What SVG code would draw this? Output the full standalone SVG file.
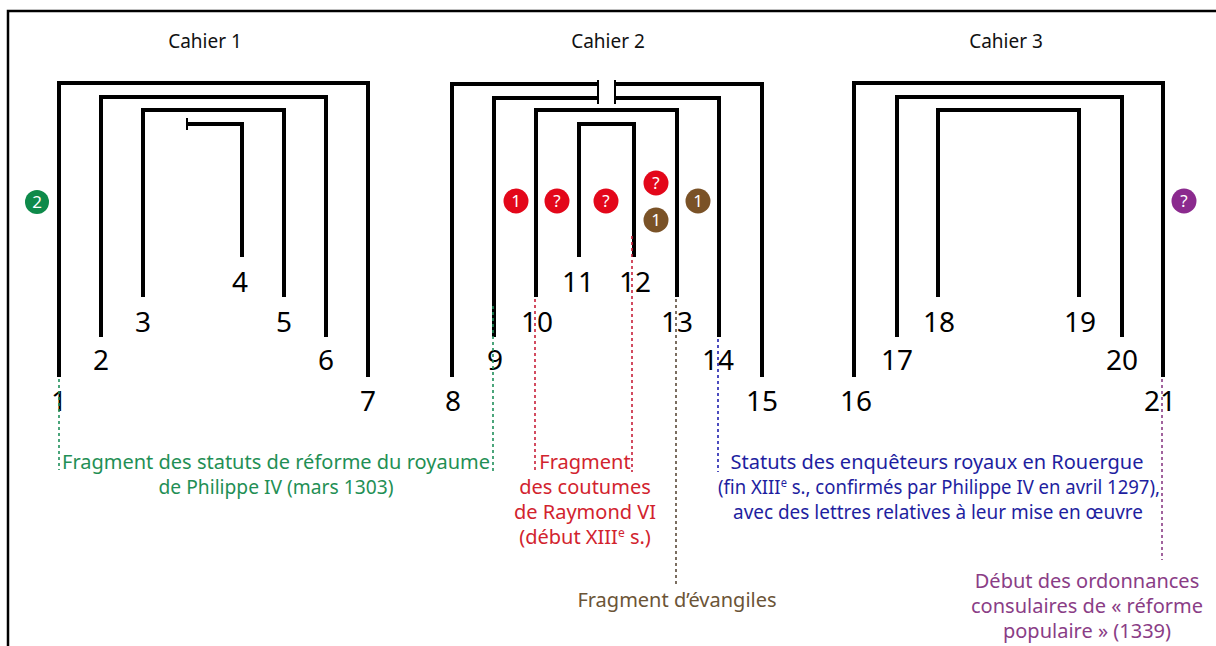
<svg xmlns="http://www.w3.org/2000/svg" width="1216" height="646" viewBox="0 0 1216 646">
<style>
.leaf{fill:none;stroke:#000;stroke-width:4;stroke-linejoin:miter;stroke-linecap:butt}
.tick{fill:none;stroke:#000;stroke-width:2}
.border{fill:none;stroke:#000;stroke-width:2.5}
.num{font-family:"Noto Sans",sans-serif;font-size:28px;fill:#000;text-anchor:middle}
.title{font-family:"Noto Sans",sans-serif;font-size:19px;fill:#111;text-anchor:middle}
.note{font-family:"Noto Sans",sans-serif;font-size:20px;text-anchor:middle}
.dot{fill:none;stroke-width:1.6;stroke-dasharray:3 3}
.badge text{font-family:"Noto Sans",sans-serif;font-size:17px;fill:#fff;text-anchor:middle}
.sup{font-size:12px}
</style>
<rect width="1216" height="646" fill="#fff"/>
<path class="border" d="M8,646 V11 H1216"/>

<g id="titles">
<text class="title" x="205" y="48">Cahier 1</text>
<text class="title" x="608" y="48">Cahier 2</text>
<text class="title" x="1006" y="48">Cahier 3</text>
</g>

<g id="cahier1">
<g id="f1-7"><path class="leaf" d="M59,377 V83 H368 V377"/><text class="num" x="59" y="411">1</text><text class="num" x="368" y="411">7</text></g>
<g id="f2-6"><path class="leaf" d="M101,337 V97 H326 V337"/><text class="num" x="101" y="370">2</text><text class="num" x="326" y="370">6</text></g>
<g id="f3-5"><path class="leaf" d="M143,297 V110 H284 V297"/><text class="num" x="143" y="332">3</text><text class="num" x="284" y="332">5</text></g>
<g id="f4"><path class="leaf" d="M187,124 H242 V257"/><path class="tick" d="M187,118 V130"/><text class="num" x="240" y="292">4</text></g>
</g>

<g id="cahier2">
<g id="f8-15"><path class="leaf" d="M452,377 V84 H598 M615,84 H762 V377"/><text class="num" x="453" y="411">8</text><text class="num" x="762" y="411">15</text></g>
<g id="f9-14"><path class="leaf" d="M494,337 V98 H598 M615,98 H719 V337"/><text class="num" x="495" y="370">9</text><text class="num" x="718" y="370">14</text></g>
<g id="gap"><path class="tick" d="M598,80 V104 M615,80 V104"/></g>
<g id="f10-13"><path class="leaf" d="M536,297 V110 H677 V297"/><text class="num" x="537" y="332">10</text><text class="num" x="677" y="332">13</text></g>
<g id="f11-12"><path class="leaf" d="M579,257 V124 H634 V257"/><text class="num" x="578" y="292">11</text><text class="num" x="635" y="292">12</text></g>
</g>

<g id="cahier3">
<g id="f16-21"><path class="leaf" d="M854,377 V83 H1163 V377"/><text class="num" x="856" y="411">16</text><text class="num" x="1160" y="411">21</text></g>
<g id="f17-20"><path class="leaf" d="M897,337 V97 H1122 V337"/><text class="num" x="897" y="370">17</text><text class="num" x="1122" y="370">20</text></g>
<g id="f18-19"><path class="leaf" d="M938,297 V110 H1079 V297"/><text class="num" x="939" y="332">18</text><text class="num" x="1080" y="332">19</text></g>
</g>

<g id="badges" class="badge">
<g id="b-green"><circle cx="37" cy="202" r="12" fill="#0e8a4a"/><text x="37" y="208">2</text></g>
<g id="b-red1"><circle cx="516" cy="201" r="12.5" fill="#e3071a"/><text x="516" y="207">1</text></g>
<g id="b-red2"><circle cx="557" cy="201" r="12.5" fill="#e3071a"/><text x="557" y="207">?</text></g>
<g id="b-red3"><circle cx="606" cy="201" r="12.5" fill="#e3071a"/><text x="606" y="207">?</text></g>
<g id="b-red4"><circle cx="656" cy="183" r="12.5" fill="#e3071a"/><text x="656" y="189">?</text></g>
<g id="b-brown1"><circle cx="656" cy="220" r="12.5" fill="#7a5227"/><text x="656" y="226">1</text></g>
<g id="b-brown2"><circle cx="698" cy="201" r="12.5" fill="#7a5227"/><text x="698" y="207">1</text></g>
<g id="b-purple"><circle cx="1184" cy="201" r="12.5" fill="#8b2a8e"/><text x="1184" y="207">?</text></g>
</g>

<g id="connectors">
<path class="dot" stroke="#1f8f5a" d="M59,379 V470 M493,306 V472"/>
<path class="dot" stroke="#c8203a" d="M535,299 V472 M632,236 V472"/>
<path class="dot" stroke="#5a4a3a" d="M676,299 V584"/>
<path class="dot" stroke="#2020b0" d="M718,339 V472"/>
<path class="dot" stroke="#8a3d86" d="M1162,379 V560"/>
</g>

<g id="notes">
<g id="n-green" fill="#1f8f55"><text class="note" x="276" y="469">Fragment des statuts de réforme du royaume</text><text class="note" x="276" y="494" textLength="235" lengthAdjust="spacingAndGlyphs">de Philippe IV (mars 1303)</text></g>
<g id="n-red" fill="#d2232e"><text class="note" x="585" y="469">Fragment</text><text class="note" x="585" y="494">des coutumes</text><text class="note" x="585" y="519">de Raymond VI</text><text class="note" x="585" y="544">(début XIII<tspan class="sup" dy="-7">e</tspan><tspan dy="7"> s.)</tspan></text></g>
<g id="n-brown" fill="#6b5436"><text class="note" x="677" y="607">Fragment d’évangiles</text></g>
<g id="n-blue" fill="#1e1ea0"><text class="note" x="937" y="469">Statuts des enquêteurs royaux en Rouergue</text><text class="note" x="939" y="494" textLength="442" lengthAdjust="spacingAndGlyphs">(fin XIII<tspan class="sup" dy="-7">e</tspan><tspan dy="7"> s., confirmés par Philippe IV en avril 1297),</tspan></text><text class="note" x="938" y="519" textLength="410" lengthAdjust="spacingAndGlyphs">avec des lettres relatives à leur mise en œuvre</text></g>
<g id="n-purple" fill="#8a3d86"><text class="note" x="1087" y="588">Début des ordonnances</text><text class="note" x="1087" y="613">consulaires de « réforme</text><text class="note" x="1087" y="638">populaire » (1339)</text></g>
</g>
</svg>
